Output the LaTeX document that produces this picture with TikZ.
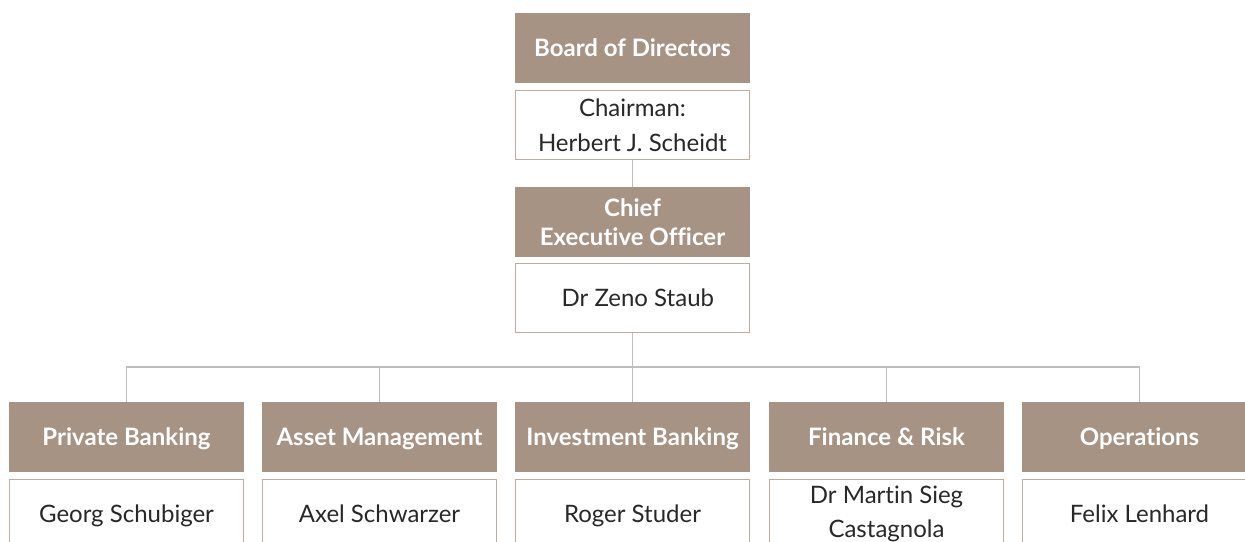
\documentclass[tikz,border=0pt]{standalone}
\usepackage{fontspec}
\setmainfont{Lato}[Ligatures=NoCommon]
\usetikzlibrary{positioning}
\definecolor{headbrown}{RGB}{166,147,131}
\definecolor{namebrd}{RGB}{190,172,160}
\definecolor{linkgrey}{RGB}{190,190,190}
\definecolor{nametxt}{RGB}{40,40,40}
\tikzset{
  headbox/.style={fill=headbrown, draw=none, text=white, font=\fontsize{18}{22}\selectfont\bfseries,
    minimum width=176.25pt, minimum height=52.5pt, align=center, inner sep=0pt},
  namebox/.style={fill=white, draw=namebrd, line width=0.75pt, text=nametxt, font=\fontsize{18}{26}\selectfont,
    minimum width=175.5pt, minimum height=51.75pt, align=center, inner sep=0pt},
  oneline/.style={text height=13pt, text depth=0pt}
}
\tikzset{link/.style={draw=linkgrey, line width=1.1pt}}
\begin{document}
\begin{tikzpicture}[x=0.75pt,y=0.75pt,yscale=-1,xscale=1]
\useasboundingbox (0,0) rectangle (1245,542);
\clip (0,0) rectangle (1245,542);

% Top of the chart
\node [headbox, oneline] (board) at (632.5,48) {Board of Directors};
\node [namebox] (chair) at (632.5,125) {Chairman:\\Herbert J. Scheidt};
\node [headbox] (ceo) at (632.5,222) {Chief\\Executive Officer};
\node [namebox, oneline] (zeno) at (632.5,298) {\hspace{8pt}Dr Zeno Staub};

% Divisions
\node [headbox, oneline] (pbhead) at (126.5,437) {Private Banking};
\node [namebox, oneline] (pbname) at (126.5,514) {Georg Schubiger};
\node [headbox, oneline] (amhead) at (379.5,437) {Asset Management};
\node [namebox, oneline] (amname) at (379.5,514) {Axel Schwarzer};
\node [headbox, oneline] (ibhead) at (632.5,437) {Investment Banking};
\node [namebox, oneline] (ibname) at (632.5,514) {Roger Studer};
\node [headbox, oneline] (frhead) at (886.5,437) {Finance \& Risk};
\node [namebox] (frname) at (886.5,514) {Dr Martin Sieg\\Castagnola};
\node [headbox, oneline] (ophead) at (1139.5,437) {Operations};
\node [namebox, oneline] (opname) at (1139.5,514) {Felix Lenhard};

% Connectors
\coordinate (bus) at (632.5,367);
\draw [link] (chair.south) -- (ceo.north);
\draw [link] (zeno.south) -- (bus);
\foreach \d in {pbhead,amhead,ibhead,frhead,ophead}
  \draw [link] (bus) -| (\d.north);
\end{tikzpicture}
\end{document}
